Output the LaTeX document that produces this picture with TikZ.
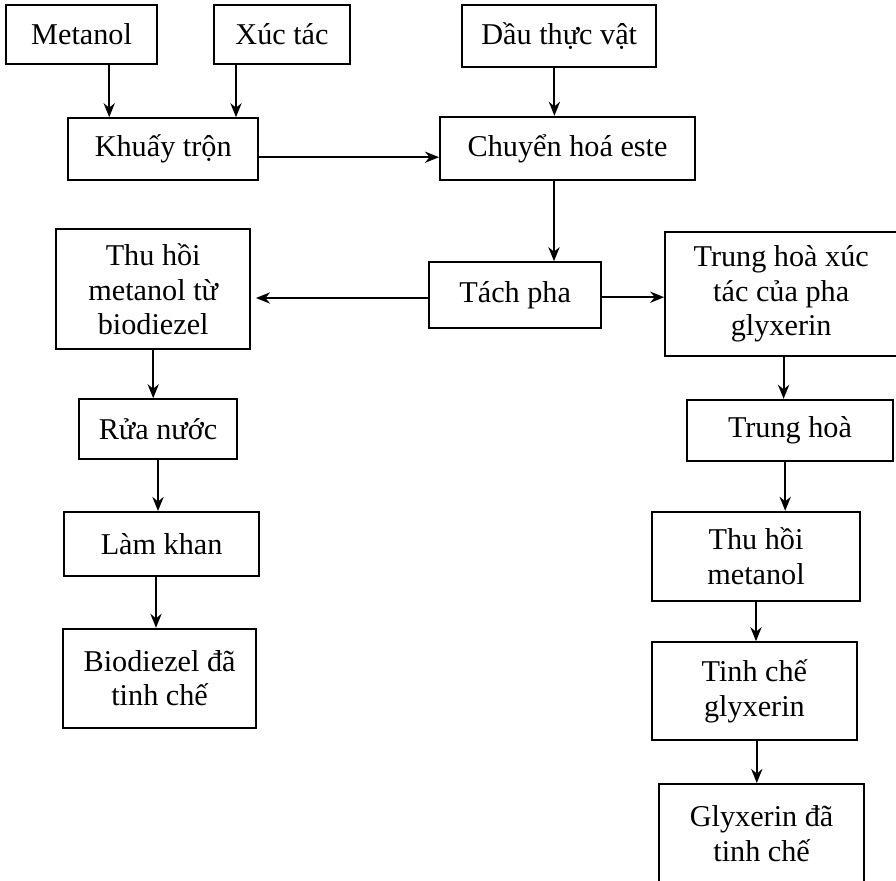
\documentclass[tikz,border=0pt]{standalone}
\usepackage{fontspec}
\setmainfont{Liberation Serif}
\usetikzlibrary{arrows.meta, positioning, calc}
\tikzset{
    box/.style={
        draw=black,
        line width=1.4pt,
        fill=white,
        text=black,
        font=\fontsize{21.5}{24.5}\selectfont,
        align=center,
        inner sep=4pt
    },
    arrow/.style={
        -{Stealth[length=10pt, width=8pt]},
        line width=1.3pt,
        black
    }
}
\begin{document}
\begin{tikzpicture}
        \useasboundingbox (0,0) rectangle (22.4,-22.025);

        % Inputs
        \node[box, minimum width=3.78cm, minimum height=1.48cm] (metanol) at (2.04,-0.86) {Metanol};
        \node[box, minimum width=3.40cm, minimum height=1.48cm] (xuctac) at (7.05,-0.86) {Xúc tác};
        \node[box, minimum width=4.85cm, minimum height=1.55cm] (dau) at (13.98,-0.90) {Dầu thực vật};

        % Mixing and reaction
        \node[box, minimum width=4.75cm, minimum height=1.55cm] (khuay) at (4.08,-3.73) {Khuấy trộn};
        \node[box, minimum width=6.38cm, minimum height=1.58cm] (chuyen) at (14.19,-3.71) {Chuyển hoá este};
        \node[box, minimum width=4.30cm, minimum height=1.65cm] (tach) at (12.88,-7.38) {Tách pha};

        % Biodiesel branch
        \node[box, minimum width=4.85cm, minimum height=3.00cm] (thuhoiA) at (3.83,-7.23) {Thu hồi\\metanol từ\\biodiezel};
        \node[box, minimum width=3.95cm, minimum height=1.50cm] (ruanuoc) at (3.95,-10.73) {Rửa nước};
        \node[box, minimum width=4.88cm, minimum height=1.60cm] (lamkhan) at (4.04,-13.60) {Làm khan};
        \node[box, minimum width=4.83cm, minimum height=2.48cm] (biodiezel) at (3.99,-16.96) {Biodiezel đã\\tinh chế};

        % Glycerin branch
        \node[box, minimum width=5.80cm, minimum height=3.10cm] (trungxt) at (19.53,-7.35) {Trung hoà xúc\\tác của pha\\glyxerin};
        \node[box, minimum width=5.15cm, minimum height=1.53cm] (trunghoa) at (19.75,-10.76) {Trung hoà};
        \node[box, minimum width=5.20cm, minimum height=2.23cm] (thuhoiB) at (18.90,-13.91) {Thu hồi\\metanol};
        \node[box, minimum width=5.13cm, minimum height=2.45cm] (tinhche) at (18.86,-17.28) {Tinh chế\\glyxerin};
        \node[box, minimum width=5.13cm, minimum height=2.48cm] (glyxerin) at (19.04,-20.84) {Glyxerin đã\\tinh chế};

        % Arrows
        \draw[arrow] ([xshift=0.69cm]metanol.south) -- ([xshift=0.69cm]metanol.south |- khuay.north);
        \draw[arrow] ([xshift=-1.15cm]xuctac.south) -- ([xshift=-1.15cm]xuctac.south |- khuay.north);
        \draw[arrow] ([xshift=-0.12cm]dau.south) -- ([xshift=-0.12cm]dau.south |- chuyen.north);
        \draw[arrow] ([yshift=-0.2cm]khuay.east) -- ([yshift=-0.2cm]khuay.east -| chuyen.west);
        \draw[arrow] ([xshift=-0.34cm]chuyen.south) -- ([xshift=-0.34cm]chuyen.south |- tach.north);
        \draw[arrow, shorten >=0.12cm] ([yshift=-0.07cm]tach.west) -- ([yshift=-0.07cm]tach.west -| thuhoiA.east);
        \draw[arrow] ([yshift=-0.05cm]tach.east) -- ([yshift=-0.05cm]tach.east -| trungxt.west);
        \draw[arrow] (thuhoiA.south) -- (thuhoiA.south |- ruanuoc.north);
        \draw[arrow] (ruanuoc.south) -- (ruanuoc.south |- lamkhan.north);
        \draw[arrow] ([xshift=-0.14cm]lamkhan.south) -- ([xshift=-0.14cm]lamkhan.south |- biodiezel.north);
        \draw[arrow] ([xshift=0.06cm]trungxt.south) -- ([xshift=0.06cm]trungxt.south |- trunghoa.north);
        \draw[arrow] ([xshift=-0.12cm]trunghoa.south) -- ([xshift=-0.12cm]trunghoa.south |- thuhoiB.north);
        \draw[arrow] (thuhoiB.south) -- (thuhoiB.south |- tinhche.north);
        \draw[arrow] ([xshift=0.06cm]tinhche.south) -- ([xshift=0.06cm]tinhche.south |- glyxerin.north);
    \end{tikzpicture}
\end{document}
